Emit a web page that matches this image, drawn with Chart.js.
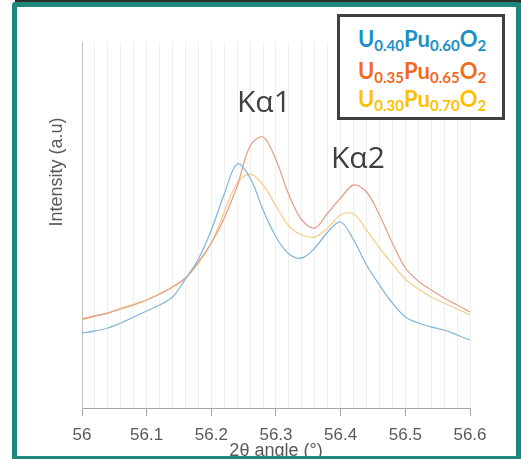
<!DOCTYPE html>
<html>
<head>
<meta charset="utf-8">
<script src="https://cdn.jsdelivr.net/npm/chart.js@4"></script>
<style>
  html, body { margin: 0; padding: 0; background: #fff; }
  #wrap { position: relative; width: 521px; height: 459px; overflow: hidden; }
  #myChart { position: absolute; left: 0; top: 0; }
  #topbar { position: absolute; left: 15px; top: 0; width: 506px; height: 3px; background: #2d2d2a; }
  #frame { position: absolute; left: 12px; top: 2px; width: 499px; height: 449px;
           border: 5px solid #1f877d; border-radius: 3px; pointer-events: none; }
  .peak { position: absolute; font-family: "Open Sans", sans-serif; font-size: 30px; color: #404040; line-height: 1; }
  #legendBox { position: absolute; left: 337px; top: 14px; width: 162px; height: 100px;
               border: 3px solid #404040; background: #fff; }
  #legendBox div { position: absolute; left: 18px; font-family: Lato, sans-serif; font-weight: bold;
                   font-size: 22px; line-height: 1; white-space: nowrap; }
  #legendBox sub { font-size: 15px; vertical-align: -4px; line-height: 0; }
</style>
</head>
<body>
<div id="wrap">
  <canvas id="myChart" width="521" height="459"></canvas>
  <div class="peak" style="left:237px; top:86px;">Kα1</div>
  <div class="peak" style="left:331px; top:142px;">Kα2</div>
  <div id="legendBox">
    <div style="top:11px; color:#1b8fc6;">U<sub>0.40</sub>Pu<sub>0.60</sub>O<sub>2</sub></div>
    <div style="top:43px; color:#f26a1e;">U<sub>0.35</sub>Pu<sub>0.65</sub>O<sub>2</sub></div>
    <div style="top:71px; color:#ffc000;">U<sub>0.30</sub>Pu<sub>0.70</sub>O<sub>2</sub></div>
  </div>
  <div id="topbar"></div>
  <div id="frame"></div>
</div>
<script>
// 2θ angles (°), one reading every 0.02°
const angles = [56.00, 56.02, 56.04, 56.06, 56.08, 56.10, 56.12, 56.14, 56.16, 56.18,
                56.20, 56.22, 56.24, 56.26, 56.28, 56.30, 56.32, 56.34, 56.36, 56.38,
                56.40, 56.42, 56.44, 56.46, 56.48, 56.50, 56.52, 56.54, 56.56, 56.58, 56.60];
// intensities (a.u.)
const u40 = [75, 77, 80, 85, 91, 97, 103, 111, 129, 149,
             178, 214, 244, 230, 198, 171, 154, 150, 160, 176,
             186, 168, 143, 123, 105, 91, 85, 81, 78, 73, 68];
const u35 = [89, 92, 95, 99, 103, 108, 114, 121, 130, 146,
             165, 190, 222, 262, 271, 248, 213, 188, 180, 195,
             210, 223, 216, 193, 165, 140, 127, 118, 110, 103, 96];
const u30 = [88, 92, 95, 100, 104, 108, 114, 121, 130, 145,
             165, 196, 225, 234, 223, 202, 182, 173, 171, 180,
             193, 194, 178, 160, 144, 129, 119, 111, 105, 99, 93];
const tickLabels = ['56', '56.1', '56.2', '56.3', '56.4', '56.5', '56.6'];

const pts = arr => arr.map((v, i) => ({ x: angles[i], y: v }));
const isMajor = v => Math.abs(v * 10 - Math.round(v * 10)) < 1e-6;

const yTitle = {
  id: 'yTitle',
  afterDraw(chart) {
    const c = chart.ctx;
    c.save();
    c.translate(57, 172);
    c.rotate(-Math.PI / 2);
    c.font = '18px "Liberation Sans", Arial, sans-serif';
    c.fillStyle = '#595959';
    c.textAlign = 'center';
    c.textBaseline = 'middle';
    c.fillText('Intensity (a.u)', 0, 0);
    c.restore();
  }
};

const ctx = document.getElementById('myChart').getContext('2d');
const myChart = new Chart(ctx, {
  type: 'line',
  data: {
    datasets: [
      { label: 'U0.40Pu0.60O2', data: pts(u40), borderColor: '#86b8dc' },
      { label: 'U0.35Pu0.65O2', data: pts(u35), borderColor: '#e5a18b' },
      { label: 'U0.30Pu0.70O2', data: pts(u30), borderColor: '#f5d08f' }
    ]
  },
  options: {
    responsive: false,
    animation: false,
    elements: {
      point: { radius: 0 },
      line: { borderWidth: 1.3, tension: 0.35 }
    },
    layout: { padding: { left: 82, right: 51, top: 42, bottom: 0 } },
    plugins: { legend: { display: false }, tooltip: { enabled: false } },
    scales: {
      x: {
        type: 'linear',
        min: 56, max: 56.6,
        afterFit: s => { s.height = 51; },
        ticks: {
          stepSize: 0.02, autoSkip: false, maxRotation: 0, padding: 9,
          color: '#595959',
          font: { family: '"Liberation Sans", Arial, sans-serif', size: 17 },
          callback: v => isMajor(v) ? tickLabels[Math.round((v - 56) * 10)] : ''
        },
        grid: {
          color: '#eeeeee',
          tickLength: 8,
          tickColor: c => isMajor(c.tick.value) ? '#a6a6a6' : 'rgba(0,0,0,0)'
        },
        border: { color: '#a6a6a6' },
        title: {
          display: true, text: '2θ angle (°)', color: '#595959', padding: { top: 0, bottom: -3 },
          font: { family: '"Liberation Sans", Arial, sans-serif', size: 18 }
        }
      },
      y: {
        min: 0, max: 366,
        afterFit: s => { s.width = 0; },
        ticks: { display: false },
        grid: { display: false },
        border: { color: '#bfbfbf' }
      }
    }
  },
  plugins: [yTitle]
});
</script>
</body>
</html>
